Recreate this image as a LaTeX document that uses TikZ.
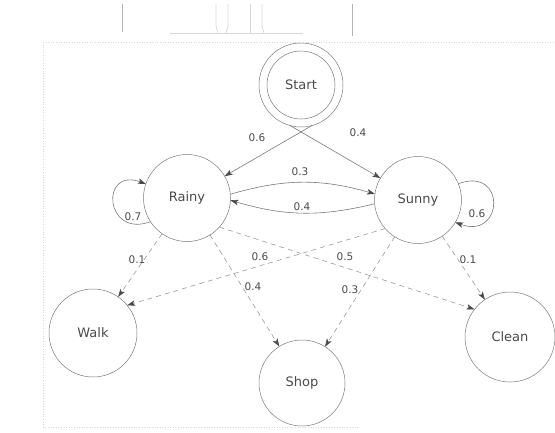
\documentclass[tikz,border=0pt]{standalone}
\usepackage{fontspec}
\setmainfont{DejaVu Sans}
\usetikzlibrary{arrows.meta}
\definecolor{txt}{HTML}{4A4A4A}
\definecolor{ln}{HTML}{7A7A7A}
\definecolor{dln}{HTML}{9A9A9A}
\definecolor{frm}{HTML}{D8D8D8}
\tikzset{
  state/.style={circle, draw=ln, line width=0.5pt, inner sep=0pt, outer sep=0pt,
    minimum size=87pt, text=txt, font=\fontsize{13}{15}\selectfont},
  tip/.style={-{Stealth[length=8pt,width=5.5pt,inset=2pt,color=txt]}},
  trans/.style={tip, draw=ln, line width=0.6pt},
  emit/.style={tip, draw=dln, line width=0.6pt, dash pattern=on 5pt off 4pt},
  lbl/.style={text=txt, font=\fontsize{10.5}{12}\selectfont, inner sep=0pt},
  scanline/.style={draw=frm, line width=0.7pt}
}
\begin{document}
\begin{tikzpicture}[x=1pt,y=1pt]
\useasboundingbox (0,0) rectangle (555,-432);
% faint frame and scan marks
\draw[frm, dotted, line width=0.6pt] (43,-42) -- (555,-42);
\draw[frm, dotted, line width=0.6pt] (43,-42) -- (43,-427) -- (360,-427);
\draw[scanline, draw=gray!60] (122,-4) -- (122,-32);
\draw[scanline, draw=gray!60] (352,-4) -- (352,-36);
\draw[scanline] (170,-33) -- (303,-33);
\draw[scanline] (216,-4) -- (216,-26) -- (218,-33);
\draw[scanline] (228,-4) -- (228,-26) -- (226,-33);
\draw[scanline] (250,-4) -- (250,-33);
\draw[scanline] (262,-4) -- (262,-26) -- (264,-33);
% states
\node[state, minimum size=84pt] (St) at (301,-85) {};
\node[state, minimum size=68pt] (Sti) at (301,-85) {Start};
\node[state] (R) at (187,-198) {Rainy};
\node[state] (S) at (418,-200) {Sunny};
\node[state, minimum size=88pt] (W) at (93,-333) {Walk};
\node[state, minimum size=86pt] (Sh) at (302,-383) {Shop};
\node[state, minimum size=90pt] (C) at (510,-337) {Clean};
% transitions
\draw[trans] (St.-75) -- (R);
\draw[trans] (St.-105) -- (S);
\draw[trans] (R.5) to[bend left=16] (S.172);
\draw[trans] (S.185) to[bend left=15] (R.-3);
\draw[trans] (R.213) to[out=200,in=160,looseness=3.3] (R.161);
\draw[trans] (S.22) to[out=20,in=-20,looseness=3.4] (S.-31);
% emissions
\draw[emit] (R) -- (W);
\draw[emit] (R) -- (Sh);
\draw[emit] (R.-42) -- (C.142);
\draw[emit] (S.221) -- (W.39);
\draw[emit] (S) -- (Sh);
\draw[emit] (S) -- (C);
% labels
\node[lbl] (l1) at (257,-138) {0.6};
\node[lbl] (l2) at (358,-133) {0.4};
\node[lbl] (l3) at (300,-172) {0.3};
\node[lbl] (l4) at (302,-207) {0.4};
\node[lbl] (l5) at (133,-217) {0.7};
\node[lbl] (l6) at (477,-214) {0.6};
\node[lbl] (l7) at (137,-260) {0.1};
\node[lbl] (l8) at (253,-287) {0.4};
\node[lbl] (l9) at (345,-257) {0.5};
\node[lbl] (l10) at (260,-257) {0.6};
\node[lbl] (l11) at (350,-290) {0.3};
\node[lbl] (l12) at (468,-260) {0.1};
\end{tikzpicture}
\end{document}
